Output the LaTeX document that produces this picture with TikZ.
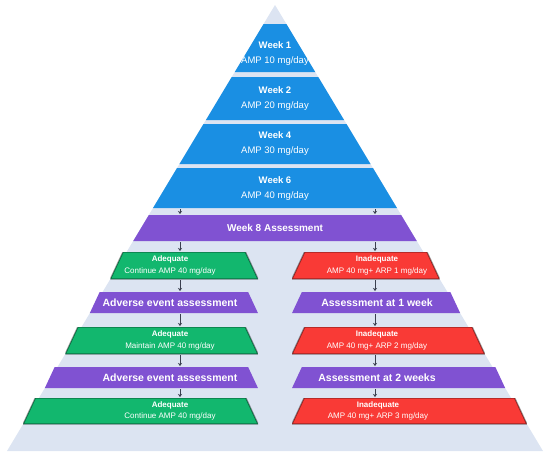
\documentclass[tikz,border=0pt]{standalone}
\usepackage{fontspec}
\setmainfont{Liberation Sans}
\usetikzlibrary{arrows.meta}
\definecolor{bgtri}{HTML}{DCE4F2}
\definecolor{wkblue}{HTML}{1A8FE3}
\definecolor{asmpurple}{HTML}{8052D2}
\definecolor{adqgreen}{HTML}{12B76E}
\definecolor{inadqred}{HTML}{F93A36}
\definecolor{arrowgray}{HTML}{3A3F4F}

\begin{document}
\begin{tikzpicture}[x=1pt,y=-1pt,
  % trapezoid drawn inside a plain rectangle node: #1 = paint, #2 = top inset (pt)
  trap/.style 2 args={rectangle,inner sep=0pt,outer sep=0pt,
    path picture={\path[#1] (path picture bounding box.south west)
      -- (path picture bounding box.south east)
      -- ([xshift=-#2pt]path picture bounding box.north east)
      -- ([xshift=#2pt]path picture bounding box.north west) -- cycle;}},
  wkpaint/.style={fill=wkblue},
  asmpaint/.style={fill=asmpurple},
  adqpaint/.style={fill=adqgreen,draw=black,draw opacity=0.4,line width=1.4pt},
  inadqpaint/.style={fill=inadqred,draw=black,draw opacity=0.4,line width=1.4pt},
  wktxt/.style={text=white,align=center,font=\fontsize{9.5}{15}\selectfont},
  bigtxt/.style={text=white,font=\fontsize{10.5}{12}\selectfont\bfseries},
  smalltxt/.style={text=white,align=center,font=\fontsize{8}{11.5}\selectfont},
  arr/.style={-{Stealth[length=3pt,width=4pt]},line width=0.8pt,arrowgray,
    shorten <=1pt,shorten >=1pt},
]
\useasboundingbox (0,0) rectangle (550,456);

% Background pyramid
\coordinate (apex) at (275,5);
\fill[bgtri] (apex) -- (543,451) -- (7,451) -- cycle;

% Titration weeks
\node[trap={wkpaint}{28.8},minimum width=80.5,minimum height=48] (w1) at (275,48) {};
\node[trap={wkpaint}{25.8},minimum width=138.2,minimum height=43] (w2) at (275,98.5) {};
\node[trap={wkpaint}{24},minimum width=191.1,minimum height=40] (w4) at (275,144) {};
\node[trap={wkpaint}{24},minimum width=244,minimum height=40] (w6) at (275,188) {};
\node[trap={asmpaint}{15.6},minimum width=283.6,minimum height=26] (w8) at (275,228) {};

\node[wktxt] (w1t) at (275,53.5) {\textbf{Week 1}\\AMP 10 mg/day};
\node[wktxt] (w2t) at (275,98.5) {\textbf{Week 2}\\AMP 20 mg/day};
\node[wktxt] (w4t) at (275,144) {\textbf{Week 4}\\AMP 30 mg/day};
\node[wktxt] (w6t) at (275,188.5) {\textbf{Week 6}\\AMP 40 mg/day};
\node[bigtxt,font=\fontsize{10}{12}\selectfont\bfseries] (w8t) at (275,228) {Week 8 Assessment};

% Left branch
\node[trap={adqpaint}{12.6},minimum width=147.6,minimum height=27] (lA) at (184.2,265.5) {};
\node[trap={asmpaint}{9.8},minimum width=168.1,minimum height=21] (lB) at (173.9,302.5) {};
\node[trap={adqpaint}{12.6},minimum width=192.7,minimum height=27] (lC) at (161.6,340.5) {};
\node[trap={asmpaint}{9.8},minimum width=213.1,minimum height=21] (lD) at (151.4,377.5) {};
\node[trap={adqpaint}{12.1},minimum width=234.8,minimum height=26] (lE) at (140.6,411) {};

\node[smalltxt] (lAt) at (170,265.5) {\textbf{Adequate}\\Continue AMP 40 mg/day};
\node[bigtxt] (lBt) at (170,302.5) {Adverse event assessment};
\node[smalltxt] (lCt) at (170,340.5) {\textbf{Adequate}\\Maintain AMP 40 mg/day};
\node[bigtxt] (lDt) at (170,377.5) {Adverse event assessment};
\node[smalltxt] (lEt) at (170,411) {\textbf{Adequate}\\Continue AMP 40 mg/day};

% Right branch
\node[trap={inadqpaint}{12.6},minimum width=147.6,minimum height=27] (rA) at (365.8,265.5) {};
\node[trap={asmpaint}{9.8},minimum width=168.1,minimum height=21] (rB) at (376.1,302.5) {};
\node[trap={inadqpaint}{12.6},minimum width=192.7,minimum height=27] (rC) at (388.4,340.5) {};
\node[trap={asmpaint}{9.8},minimum width=213.1,minimum height=21] (rD) at (398.6,377.5) {};
\node[trap={inadqpaint}{12.1},minimum width=234.8,minimum height=26] (rE) at (409.4,411) {};

\node[smalltxt] (rAt) at (377,265.5) {\textbf{Inadequate}\\AMP 40 mg+ ARP 1 mg/day};
\node[bigtxt] (rBt) at (377,302.5) {Assessment at 1 week};
\node[smalltxt] (rCt) at (377,340.5) {\textbf{Inadequate}\\AMP 40 mg+ ARP 2 mg/day};
\node[bigtxt] (rDt) at (377,377.5) {Assessment at 2 weeks};
\node[smalltxt] (rEt) at (378,411) {\textbf{Inadequate}\\AMP 40 mg+ ARP 3 mg/day};

% Arrows
\coordinate (colL) at (180,0);
\coordinate (colR) at (375,0);
\draw[arr] (w6.south -| colL) -- (w8.north -| colL);
\draw[arr] (w6.south -| colR) -- (w8.north -| colR);
\draw[arr] (w8.south -| colL) -- (lA.north -| colL);
\draw[arr] (w8.south -| colR) -- (rA.north -| colR);
\draw[arr] (lA.south -| colL) -- (lB.north -| colL);
\draw[arr] (lB.south -| colL) -- (lC.north -| colL);
\draw[arr] (lC.south -| colL) -- (lD.north -| colL);
\draw[arr] (lD.south -| colL) -- (lE.north -| colL);
\draw[arr] (rA.south -| colR) -- (rB.north -| colR);
\draw[arr] (rB.south -| colR) -- (rC.north -| colR);
\draw[arr] (rC.south -| colR) -- (rD.north -| colR);
\draw[arr] (rD.south -| colR) -- (rE.north -| colR);

\end{tikzpicture}
\end{document}
